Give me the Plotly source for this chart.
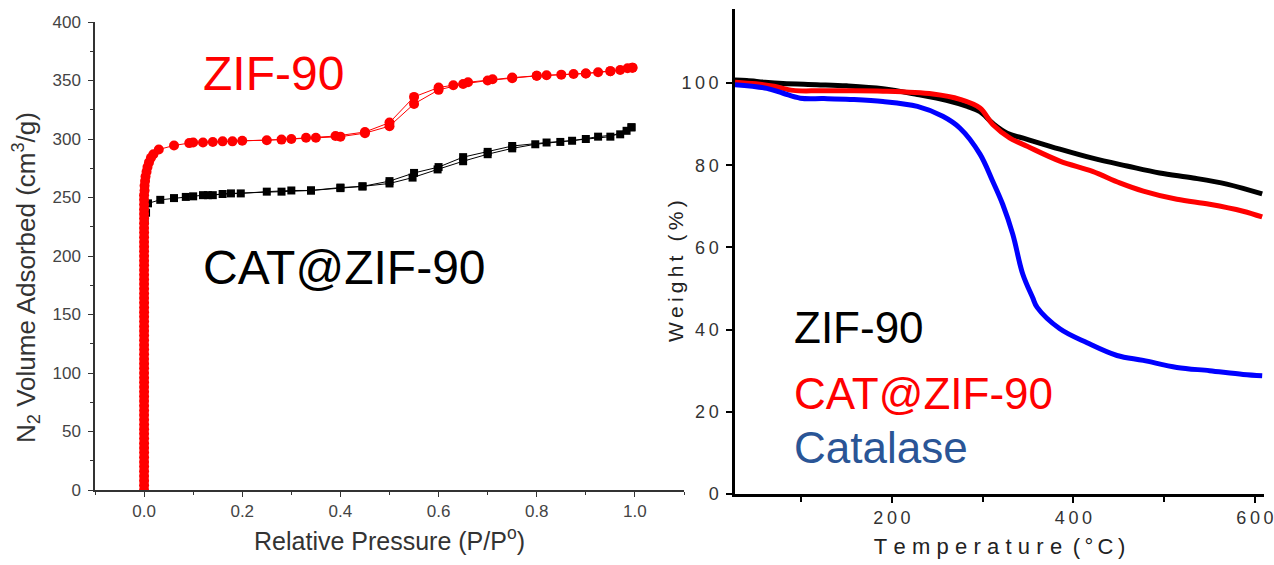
import plotly.graph_objects as go

# --- N2 isotherms (left) ---
zif_ads_p = [0.0, 0.0, 0.0, 0.0, 0.0, 0.0, 0.0, 0.0, 0.0, 0.0, 0.0, 0.0, 0.0, 0.0, 0.0, 0.0,
             0.0, 0.0, 0.0, 0.0, 0.0, 0.0, 0.0, 0.0, 0.0, 0.0, 0.0, 0.0, 0.0, 0.0, 0.0, 0.0,
             0.0, 0.0, 0.0, 0.0, 0.0, 0.0, 0.0, 0.0, 0.0, 0.0, 0.0, 0.0, 0.0, 0.0, 0.0, 0.0,
             0.0, 0.0, 0.0, 0.0, 0.0, 0.0, 0.0, 0.0, 0.0, 0.0, 0.0, 0.0, 0.0, 0.0, 0.0, 0.0,
             0.001, 0.001, 0.002, 0.003, 0.005, 0.007, 0.010, 0.014, 0.019,
             0.03, 0.061, 0.092, 0.12, 0.14, 0.16, 0.18, 0.20, 0.25, 0.30, 0.35, 0.40, 0.45,
             0.50, 0.55, 0.60, 0.65, 0.70, 0.75, 0.80, 0.85, 0.90, 0.95, 0.995]
zif_ads_v = [0, 4, 8, 12, 16, 20, 24, 28, 32, 36, 40, 44, 48, 52, 56, 60,
             64, 68, 72, 76, 80, 84, 88, 92, 96, 100, 104, 108, 112, 116, 120, 124,
             128, 132, 136, 140, 144, 148, 152, 156, 160, 164, 168, 172, 176, 180, 184, 188,
             192, 196, 200, 204, 208, 212, 216, 220, 224, 228, 232, 236, 240, 244, 248, 252,
             256, 260, 264, 268, 272, 276, 280, 284, 287,
             291, 294.5, 296.5, 297, 297.5, 298, 298, 298.5, 299, 300, 301, 302, 305,
             311, 330, 342, 347, 350, 352, 354, 355, 356, 358, 361]
zif_des_p = [0.995, 0.985, 0.97, 0.95, 0.925, 0.90, 0.875, 0.82, 0.80, 0.75, 0.71, 0.66, 0.63, 0.60,
             0.55, 0.50, 0.45, 0.39, 0.33, 0.28, 0.10]
zif_des_v = [361, 360.5, 359, 358, 357, 356, 355.5, 354.5, 354, 352.5, 351, 348.5, 346, 344,
             336, 314, 306, 302.5, 301, 299.5, 297]

cat_ads_p = [0.0, 0.0, 0.0, 0.0, 0.0, 0.0, 0.0, 0.0, 0.001, 0.004, 0.008, 0.033, 0.061, 0.085, 0.10,
             0.12, 0.14, 0.16, 0.197, 0.25, 0.30, 0.34, 0.40, 0.445, 0.50, 0.547, 0.598, 0.65, 0.70,
             0.75, 0.797, 0.848, 0.90, 0.95, 0.993]
cat_ads_v = [0, 25, 55, 90, 125, 160, 195, 220, 230, 237, 245, 248, 249.5, 250.5, 251,
             252, 252, 253, 253.5, 255, 256, 256, 258, 259.5, 262, 267, 274, 281, 287,
             292, 295.5, 297.5, 300, 302, 310]
cat_des_p = [0.993, 0.983, 0.97, 0.925, 0.872, 0.82, 0.75, 0.70, 0.65, 0.60, 0.55, 0.50, 0.445,
             0.40, 0.34, 0.28, 0.177, 0.13]
cat_des_v = [310, 307, 304, 302, 298.5, 297, 294, 289, 284.5, 276, 271, 264, 259.5,
             258.5, 256, 255, 253.5, 252]

# --- TGA (right) ---
zif_t = [27, 40, 60, 80, 117, 150, 190, 228, 260, 283, 297, 311, 327, 349, 385, 421, 459, 495, 532, 569, 608]
zif_w = [100.7, 100.6, 100.2, 99.9, 99.6, 99.3, 98.6, 97.2, 95.8, 94.3, 93, 90.2, 87.8, 86.3, 83.9,
         81.7, 79.8, 78.1, 76.9, 75.4, 73]
catzif_t = [27, 50, 70, 91, 120, 150, 190, 245, 275, 297, 311, 330, 349, 385, 421, 451, 477, 514, 550, 587, 608]
catzif_w = [100.2, 99.8, 99.2, 98.2, 98.1, 98.1, 98.0, 97.3, 96, 93.9, 89.9, 86.6, 84.6, 81, 78.5,
            75.7, 73.7, 71.7, 70.5, 68.8, 67.4]
catalase_t = [27, 62, 80, 99, 125, 154, 190, 228, 256, 275, 297, 311, 322, 333, 344, 355, 360, 385,
              415, 448, 477, 514, 550, 587, 608]
catalase_w = [99.6, 98.7, 97.5, 96.3, 96.2, 96.0, 95.5, 94.3, 91.9, 89, 82.7, 76.1, 70.5, 63.3, 53.6,
              47.8, 45.4, 40.2, 36.8, 33.7, 32.5, 30.8, 30, 29.1, 28.8]

FONT = "Liberation Sans, Arial, sans-serif"
W, H = 1274, 565


def sp(s, gap="\u2009"):
    return gap.join(s)


fig = go.Figure()

# black CAT@ZIF-90 isotherm
for p, v in [(cat_ads_p, cat_ads_v), (cat_des_p, cat_des_v)]:
    fig.add_trace(go.Scatter(x=p, y=v, mode="lines+markers", xaxis="x", yaxis="y",
                             line=dict(color="black", width=1),
                             marker=dict(symbol="square", size=8, color="black")))
# red ZIF-90 isotherm
for p, v in [(zif_ads_p, zif_ads_v), (zif_des_p, zif_des_v)]:
    fig.add_trace(go.Scatter(x=p, y=v, mode="lines+markers", xaxis="x", yaxis="y",
                             line=dict(color="red", width=1),
                             marker=dict(symbol="circle", size=10, color="red")))

# TGA curves
fig.add_trace(go.Scatter(x=zif_t, y=zif_w, mode="lines", xaxis="x2", yaxis="y2",
                         line=dict(color="black", width=5, shape="spline")))
fig.add_trace(go.Scatter(x=catzif_t, y=catzif_w, mode="lines", xaxis="x2", yaxis="y2",
                         line=dict(color="red", width=5, shape="spline")))
fig.add_trace(go.Scatter(x=catalase_t, y=catalase_w, mode="lines", xaxis="x2", yaxis="y2",
                         line=dict(color="blue", width=5, shape="spline")))

left_ax = dict(showline=True, linecolor="#333", linewidth=1.5, ticks="outside", ticklen=5,
               tickcolor="#333", showgrid=False, zeroline=False, automargin=False,
               tickfont=dict(family=FONT, size=17, color="#444"))
right_ax = dict(showline=True, linecolor="black", linewidth=2.5, ticks="outside", ticklen=6,
                tickwidth=2, tickcolor="black", showgrid=False, zeroline=False, automargin=False,
                tickfont=dict(family=FONT, size=18, color="#333"))

temp_title = sp("Temperature", "\u2009\u200a") + "\u2009 " + sp("(°C)")

fig.update_layout(
    width=W, height=H, margin=dict(l=0, r=0, t=0, b=0, autoexpand=False),
    paper_bgcolor="white", plot_bgcolor="white", showlegend=False,
    font=dict(family=FONT),
    xaxis=dict(left_ax, domain=[95 / W, 684 / W], range=[-0.1, 1.1], dtick=0.2, tick0=0,
               tickformat=".1f", anchor="y",
               minor=dict(dtick=0.1, tick0=0, ticks="outside", ticklen=3, tickcolor="#333"),
               title=dict(text="Relative Pressure (P/P<sup>o</sup>)", standoff=12,
                          font=dict(family=FONT, size=25, color="#333"))),
    yaxis=dict(left_ax, domain=[75 / H, 543 / H], range=[0, 400], dtick=50, anchor="x",
               ticklabelstandoff=4,
               minor=dict(dtick=25, ticks="outside", ticklen=3, tickcolor="#333")),
    xaxis2=dict(right_ax, domain=[735 / W, 1264 / W], range=[27, 610], anchor="y2",
                tickvals=[200, 400, 600], ticktext=[sp("200"), sp("400"), sp("600")],
                minor=dict(dtick=100, tick0=0, ticks="outside", ticklen=5, tickwidth=2,
                           tickcolor="black"),
                title=dict(text=temp_title, standoff=12,
                           font=dict(family=FONT, size=22, color="#222"))),
    yaxis2=dict(right_ax, domain=[71 / H, 556 / H], range=[0, 118], anchor="x2",
                tickvals=[0, 20, 40, 60, 80, 100],
                ticktext=[sp(str(v)) for v in [0, 20, 40, 60, 80, 100]],
                ticklabelstandoff=4),
)

ann = [
    dict(text="N<sub>2</sub> Volume Adsorbed (cm<sup>3</sup>/g)", x=26 / W, y=1 - 278 / H,
         xref="paper", yref="paper", textangle=-90, showarrow=False,
         font=dict(family=FONT, size=26, color="#333"), xanchor="center", yanchor="middle"),
    dict(text=sp("Weight (%)"), x=675 / W, y=1 - 271 / H,
         xref="paper", yref="paper", textangle=-90, showarrow=False,
         font=dict(family=FONT, size=21, color="#222"), xanchor="center", yanchor="middle"),
    dict(text="ZIF-90", x=0.116, y=356, xref="x", yref="y", showarrow=False,
         font=dict(family=FONT, size=48, color="red"), xanchor="left", yanchor="middle"),
    dict(text="CAT@ZIF-90", x=0.116, y=190, xref="x", yref="y", showarrow=False,
         font=dict(family=FONT, size=48, color="black"), xanchor="left", yanchor="middle"),
    dict(text="ZIF-90", x=90, y=40.5, xref="x2", yref="y2", showarrow=False,
         font=dict(family=FONT, size=44, color="black"), xanchor="left", yanchor="middle"),
    dict(text="CAT@ZIF-90", x=90, y=24.5, xref="x2", yref="y2", showarrow=False,
         font=dict(family=FONT, size=44, color="red"), xanchor="left", yanchor="middle"),
    dict(text="Catalase", x=90, y=11.2, xref="x2", yref="y2", showarrow=False,
         font=dict(family=FONT, size=44, color="#2a5596"), xanchor="left", yanchor="middle"),
]
fig.update_layout(annotations=ann)

fig.write_html("out.html", config={"displayModeBar": False},
               post_script="document.body.style.margin='0';document.body.style.overflow='hidden';")
